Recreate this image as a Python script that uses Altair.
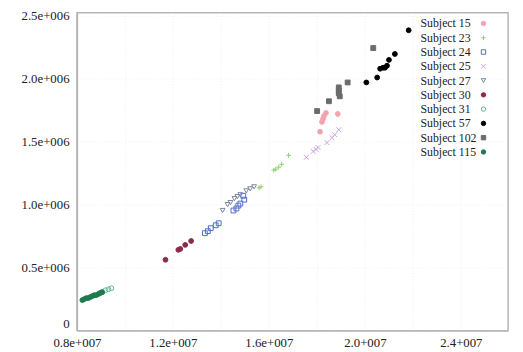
import altair as alt
import pandas as pd

subjects = ["Subject 15", "Subject 23", "Subject 24", "Subject 25", "Subject 27",
            "Subject 30", "Subject 31", "Subject 57", "Subject 102", "Subject 115"]

s15_x = [18.133e6, 18.215e6, 18.256e6, 18.297e6, 18.379e6, 18.872e6]
s15_y = [1578e3, 1656e3, 1680e3, 1703e3, 1727e3, 1719e3]
s23_x = [15.590e6, 15.672e6, 16.205e6, 16.287e6, 16.410e6, 16.533e6, 16.821e6]
s23_y = [1133e3, 1141e3, 1273e3, 1281e3, 1297e3, 1320e3, 1391e3]
s24_x = [13.333e6, 13.456e6, 13.579e6, 13.785e6, 13.908e6, 14.523e6, 14.646e6,
         14.728e6, 14.810e6, 14.974e6, 14.933e6]
s24_y = [773e3, 789e3, 813e3, 836e3, 852e3, 953e3, 969e3, 992e3, 1008e3, 1039e3, 1070e3]
s25_x = [17.559e6, 17.846e6, 17.969e6, 18.051e6, 18.421e6, 18.626e6, 18.749e6, 18.913e6]
s25_y = [1375e3, 1422e3, 1438e3, 1453e3, 1492e3, 1531e3, 1555e3, 1594e3]
s27_x = [14.072e6, 14.277e6, 14.400e6, 14.564e6, 14.687e6, 14.810e6, 15.056e6,
         15.220e6, 15.385e6]
s27_y = [953e3, 1000e3, 1016e3, 1047e3, 1063e3, 1078e3, 1109e3, 1125e3, 1141e3]
s30_x = [11.692e6, 12.226e6, 12.308e6, 12.513e6, 12.759e6]
s30_y = [562e3, 641e3, 648e3, 680e3, 711e3]
s31_x = [8.944e6, 9.067e6, 9.190e6, 9.313e6, 9.436e6]
s31_y = [297e3, 305e3, 320e3, 328e3, 336e3]
s57_x = [20.062e6, 20.513e6, 20.636e6, 20.759e6, 20.841e6, 20.923e6, 21.005e6,
         21.251e6, 21.825e6]
s57_y = [1969e3, 2008e3, 2078e3, 2086e3, 2086e3, 2102e3, 2148e3, 2195e3, 2383e3]
s102_x = [18.010e6, 18.503e6, 18.913e6, 18.913e6, 18.913e6, 18.954e6, 19.282e6, 20.349e6]
s102_y = [1742e3, 1820e3, 1930e3, 1906e3, 1883e3, 1859e3, 1969e3, 2242e3]
s115_x = [8.226e6, 8.308e6, 8.390e6, 8.472e6, 8.554e6, 8.636e6, 8.718e6, 8.800e6,
          8.882e6, 8.964e6, 9.046e6]
s115_y = [242e3, 250e3, 258e3, 258e3, 266e3, 273e3, 281e3, 281e3, 289e3, 297e3, 305e3]

series_x = [s15_x, s23_x, s24_x, s25_x, s27_x, s30_x, s31_x, s57_x, s102_x, s115_x]
series_y = [s15_y, s23_y, s24_y, s25_y, s27_y, s30_y, s31_y, s57_y, s102_y, s115_y]

x_tick_values = [8000000, 12000000, 16000000, 20000000, 24000000]
x_tick_labels = ["0.8e+007", "1.2e+007", "1.6e+007", "2.0+007", "2.4+007"]
x_grid_values = [8000000, 10000000, 12000000, 14000000, 16000000, 18000000,
                 20000000, 22000000, 24000000]
y_tick_values = [0, 500000, 1000000, 1500000, 2000000, 2500000]
y_tick_labels = ["0", "0.5e+006", "1.0e+006", "1.5e+006", "2.0e+006", "2.5e+006"]

shapes = ["circle", "M-1,0L1,0M0,-1L0,1", "square", "M-1,-1L1,1M-1,1L1,-1",
          "triangle-down", "circle", "circle", "circle", "square", "circle"]
strokes = ["#f4a3ad", "#8fcf6a", "#4e6fc2", "#c9a3d9", "#7d84a3",
           "#8c2a48", "#5fb596", "#000000", "#6b6b6b", "#1f7a4d"]
fills = ["#f4a3ad", "transparent", "transparent", "transparent", "transparent",
         "#8c2a48", "transparent", "#000000", "#6b6b6b", "#1f7a4d"]

rows = []
for s, xs, ys in zip(subjects, series_x, series_y):
    for xv, yv in zip(xs, ys):
        rows.append({"subject": s, "x": xv, "y": yv})
df = pd.DataFrame(rows)


def label_expr(values, labels):
    parts = [f"datum.value == {v} ? '{l}'" for v, l in zip(values, labels)]
    return " : ".join(parts) + " : ''"


font = "Liberation Serif, Times New Roman, serif"

legend = alt.Legend(
    title=None, orient="none", legendX=340, legendY=5,
    labelFont=font, labelFontSize=12, labelColor="#222222",
    symbolOffset=67, labelOffset={"expr": "-70"}, labelAlign="left",
    rowPadding=2.5, symbolSize=20, symbolStrokeWidth=1,
)

chart = alt.Chart(df).mark_point(size=24, strokeWidth=1, opacity=1).encode(
    x=alt.X("x:Q", scale=alt.Scale(domain=[8000000, 25970000], nice=False, zero=False),
            axis=alt.Axis(values=x_grid_values, title=None,
                          labelExpr=label_expr(x_tick_values, x_tick_labels))),
    y=alt.Y("y:Q", scale=alt.Scale(domain=[0, 2523000], nice=False),
            axis=alt.Axis(values=y_tick_values, title=None,
                          labelExpr=label_expr(y_tick_values, y_tick_labels),
                          labelBaseline={"condition": {"test": "datum.value == 0",
                                                       "value": "bottom"},
                                         "value": "middle"})),
    shape=alt.Shape("subject:N", scale=alt.Scale(domain=subjects, range=shapes), legend=legend),
    stroke=alt.Stroke("subject:N", scale=alt.Scale(domain=subjects, range=strokes), legend=legend),
    fill=alt.Fill("subject:N", scale=alt.Scale(domain=subjects, range=fills), legend=legend),
).properties(
    width=438, height=323,
    autosize=alt.AutoSizeParams(type="none"),
    padding={"left": 70, "top": 2, "right": 7, "bottom": 19},
).configure(
    font=font
).configure_view(
    stroke="#b5b5b5", strokeWidth=1.5
).configure_axis(
    labelFont=font, labelFontSize=13, labelColor="#222222",
    domainColor="#b5b5b5", domainWidth=1.5, ticks=False,
    grid=True, gridColor="#f2f2f2", gridDash=[1, 2], gridWidth=1,
).configure_axisX(
    labelPadding=6, labelFlush=False,
).configure_axisY(
    labelPadding=8,
)

chart.save("out.html", embed_options={"renderer": "svg", "actions": False})
